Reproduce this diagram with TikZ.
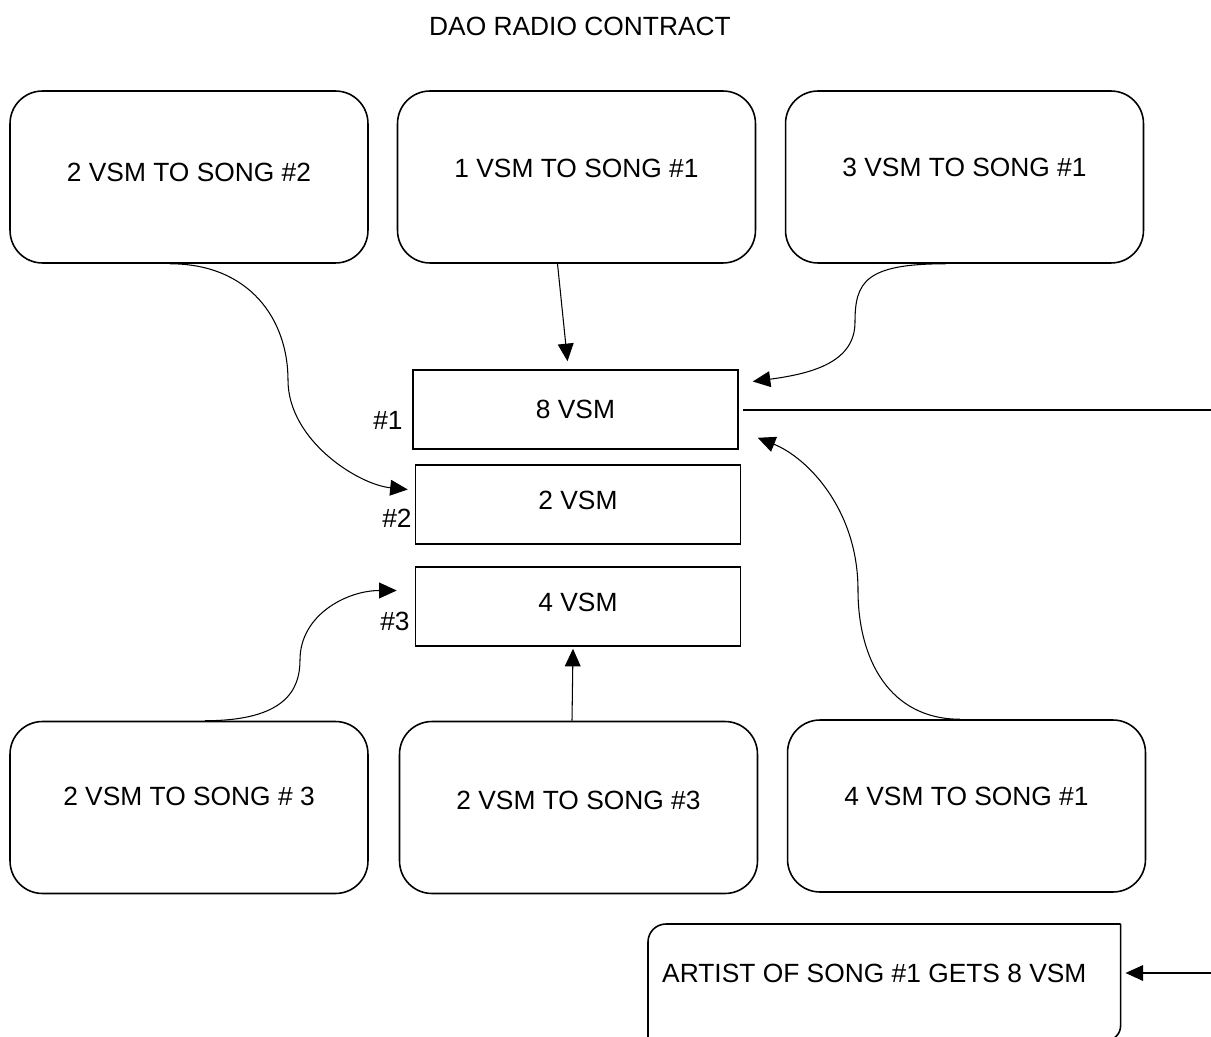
\documentclass[tikz,border=0pt]{standalone}
\usepackage{fontspec}
\setmainfont{Liberation Sans}
\usetikzlibrary{arrows.meta}

\tikzset{
  txt/.style={font=\fontsize{15}{18}\selectfont},
  vote/.style={draw, line width=0.9pt, rounded corners=0.65cm, minimum width=7.16cm, minimum height=3.44cm, txt},
  pot/.style={draw, line width=0.9pt, minimum width=6.5cm, minimum height=1.58cm, txt},
  lift/.style={text depth=#1},
  flow/.style={-{Triangle[length=10pt,width=9pt]}, line width=0.6pt},
}

\begin{document}
\begin{tikzpicture}[x=0.02cm,y=-0.02cm]
	\useasboundingbox (0,0) rectangle (1211,1037);
	\clip (0,0) rectangle (1211,1037);

	\node[txt] (title) at (580,26) {DAO RADIO CONTRACT};

	% votes coming in
	\node[vote,lift=0.2cm] (a) at (189,177) {2 VSM TO SONG \#2};
	\node[vote,lift=0.36cm] (b) at (576.5,177) {1 VSM TO SONG \#1};
	\node[vote,lift=0.4cm] (c) at (964.5,177) {3 VSM TO SONG \#1};
	\node[vote,lift=0.44cm] (d) at (189,807.5) {2 VSM TO SONG \# 3};
	\node[vote,lift=0.28cm] (e) at (578.5,807.5) {2 VSM TO SONG \#3};
	\node[vote,lift=0.4cm] (f) at (966.5,806) {4 VSM TO SONG \#1};

	% pots per song
	\node[pot] (pot1) at (575.5,409.5) {8 VSM};
	\node[pot,lift=0.18cm] (pot2) at (578,504.5) {2 VSM};
	\node[pot,lift=0.18cm] (pot3) at (578,606.5) {4 VSM};
	\node[txt] (tag1) at (388,420) {\#1};
	\node[txt] (tag2) at (397,518) {\#2};
	\node[txt] (tag3) at (395,621) {\#3};

	% payout box, only two corners rounded
	\node[minimum width=9.44cm, minimum height=2.32cm, anchor=north west] (artist) at (648,924) {};
	\node[txt, anchor=west] (artisttext) at (656,973) {ARTIST OF SONG \#1 GETS 8 VSM};
	\draw[line width=0.9pt, rounded corners=0.36cm] (artist.north east) -- (artist.north west) -- (artist.south west);
	\draw[line width=0.9pt, rounded corners=0.3cm] (artist.north east) -- (artist.south east) -- (artist.south west);

	\coordinate (out1) at (1211,410);
	\coordinate (out2) at (1211,973);

	% connectors
	\draw[flow] ([xshift=-0.38cm]b.south) -- ([xshift=-0.16cm,yshift=0.16cm]pot1.north);
	\draw[flow] ([xshift=-0.38cm]c.south) .. controls +(-80,0) and +(0,-40) .. (855,322)
		.. controls +(0,40) and +(60,-8) .. ([xshift=0.28cm,yshift=0.56cm]pot1.east);
	\draw[flow] ([xshift=-0.38cm]a.south) .. controls +(80,0) and +(0,-60) .. (288,380)
		.. controls +(0,60) and +(-50,-5) .. ([xshift=-0.14cm,yshift=0.3cm]pot2.west);
	\draw[flow] ([xshift=0.32cm]d.north) .. controls +(80,0) and +(0,30) .. (300,660)
		.. controls +(0,-45) and +(-50,0) .. ([xshift=-0.36cm,yshift=0.32cm]pot3.west);
	\draw[flow] ([xshift=-0.13cm]e.north) -- ([xshift=-0.1cm,yshift=-0.04cm]pot3.south);
	\draw[flow] ([xshift=-0.13cm]f.north) .. controls +(-70,0) and +(0,70) .. (858,590)
		.. controls +(0,-80) and +(50,20) .. ([xshift=0.38cm,yshift=0.24cm]pot1.south east);
	\draw[line width=0.6pt] ([xshift=0.08cm]pot1.east |- out1) -- (out1);
	\draw[flow] (out2) -- ([xshift=0.1cm]artist.east |- out2);
\end{tikzpicture}
\end{document}
